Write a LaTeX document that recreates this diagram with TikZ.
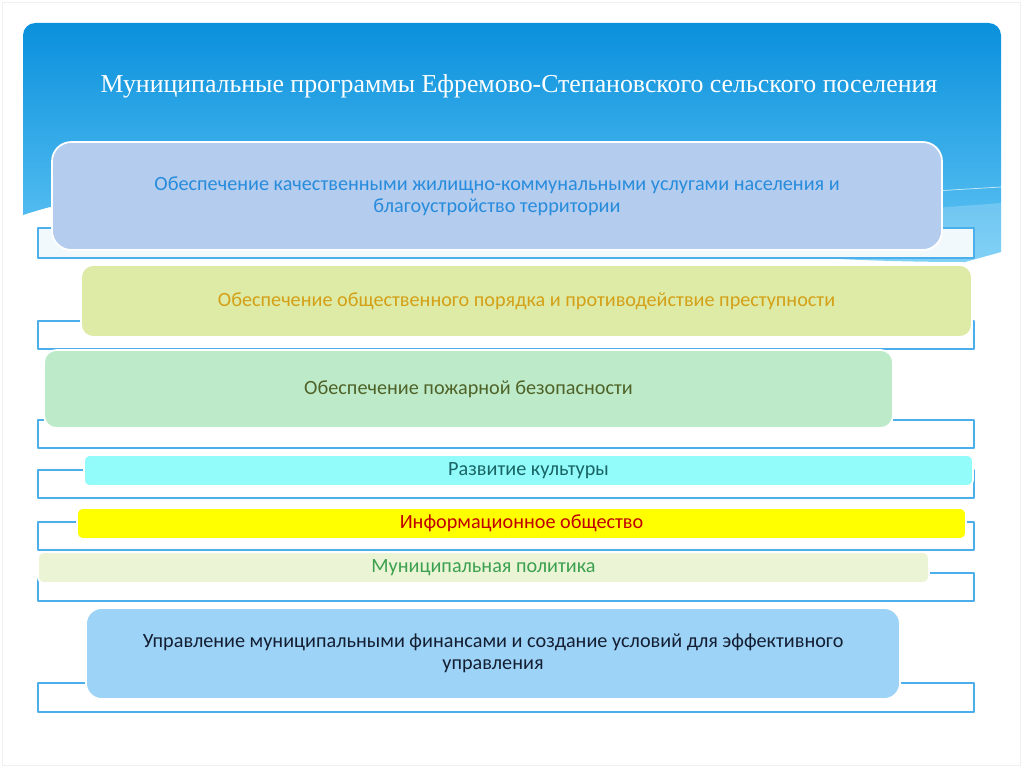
\documentclass[tikz,border=0pt]{standalone}
\usepackage{fontspec}
\setmainfont{Liberation Serif}
\newfontfamily\calib{Carlito}
\definecolor{hdtop}{RGB}{10,144,220}
\definecolor{hdbot}{RGB}{98,198,244}
\definecolor{frm}{RGB}{76,174,234}
\definecolor{fillA}{RGB}{180,204,238}\definecolor{textA}{RGB}{40,140,220}
\definecolor{fillB}{RGB}{222,235,166}\definecolor{textB}{RGB}{212,160,23}
\definecolor{fillC}{RGB}{189,235,201}\definecolor{textC}{RGB}{79,98,40}
\definecolor{fillD}{RGB}{145,252,250}\definecolor{textD}{RGB}{25,100,100}
\definecolor{fillE}{RGB}{255,255,0}\definecolor{textE}{RGB}{192,0,0}
\definecolor{fillF}{RGB}{235,245,214}\definecolor{textF}{RGB}{60,160,80}
\definecolor{fillG}{RGB}{157,211,247}\definecolor{textG}{RGB}{20,30,50}
\def\px{0.02cm}
\begin{document}
\begin{tikzpicture}[x=0.02cm, y=-0.02cm, font=\calib\fontsize{11.5}{12.5}\selectfont, line join=round,
	prog/.style={rounded corners=#1, draw=white, line width=1pt, inner sep=0pt, align=center}]
	\useasboundingbox (0,0) rectangle (1024,767);
	\draw[gray!12] (2,2) rectangle (1020,765);
	% header
	\shade[top color=hdtop, bottom color=hdbot] (23,215) [rounded corners=7pt]-- (23,23) -- (1001,23) [sharp corners]-- (1001,252) -- (965,262) .. controls (500,262) and (250,140) .. (23,215) -- cycle;
	\fill[white, opacity=.2] (600,262) .. controls (800,218) .. (1001,203) -- (1001,252) -- (965,262) -- cycle;
	\draw[white, opacity=.7] (700,215) .. controls (850,196) .. (1001,187);
	\node[text=white, font=\rmfamily\fontsize{14.7}{17}\selectfont] (title) at (519,86) {Муниципальные программы Ефремово-Степановского сельского поселения};
	% frames behind the boxes
	\foreach \ya/\yb in {228/258, 321/349, 420/448, 470/498, 522/550, 573/601, 683/712}
		\draw[frm, line width=1.1pt, fill=white] (38,\ya) rectangle (974,\yb);
	\fill[frm!8] (39,229) rectangle (973,257);
	% programmes
	\node[prog=11pt, fill=fillA, text=textA, minimum width=890*\px, minimum height=108*\px] (housing) at (497,196) {Обеспечение качественными жилищно-коммунальными услугами населения и\\ благоустройство территории};
	\node[prog=7pt, fill=fillB, text=textB, minimum width=891*\px, minimum height=72*\px] (order) at (526.5,301) {Обеспечение общественного порядка и противодействие преступности};
	\node[prog=7pt, fill=fillC, text=textC, minimum width=849*\px, minimum height=78*\px] (fire) at (468.5,389) {Обеспечение пожарной безопасности};
	\node[prog=3.5pt, fill=fillD, text=textD, minimum width=889*\px, minimum height=31*\px] (culture) at (528.5,470.5) {Развитие культуры};
	\node[prog=3.5pt, fill=fillE, text=textE, minimum width=889*\px, minimum height=31*\px] (infosoc) at (521.5,523.5) {Информационное общество};
	\node[prog=3.5pt, fill=fillF, text=textF, minimum width=891*\px, minimum height=31*\px] (policy) at (483.5,567.5) {Муниципальная политика};
	\node[prog=9pt, fill=fillG, text=textG, minimum width=814*\px, minimum height=91*\px] (finance) at (493,653.5) {Управление муниципальными финансами и создание условий для эффективного\\ управления};
\end{tikzpicture}
\end{document}
